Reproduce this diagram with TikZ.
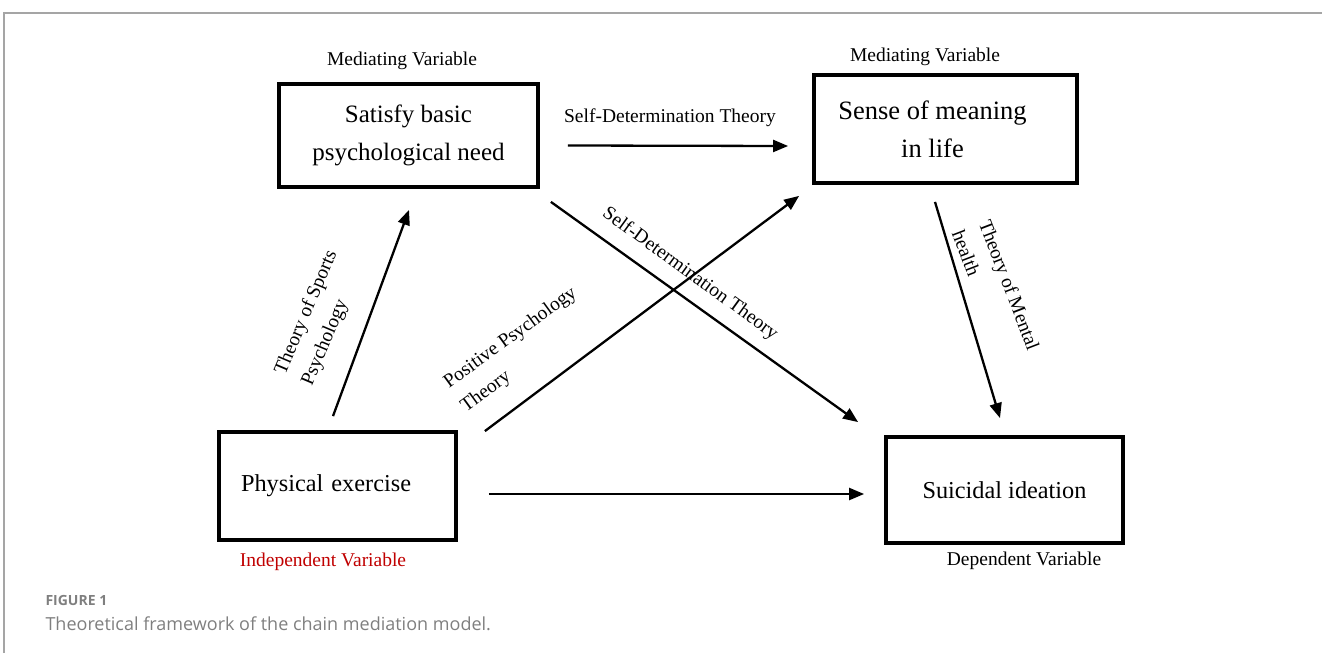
\documentclass[tikz,border=0pt]{standalone}
\usepackage{fontspec}
\setmainfont{Liberation Serif}
\newfontfamily\capfont{Open Sans}
\usetikzlibrary{arrows.meta}
\definecolor{capgray}{HTML}{7F7F7F}
\definecolor{indred}{HTML}{C00000}

\begin{document}
\begin{tikzpicture}[x=1pt, y=-1pt,
			var/.style  = {draw, line width=3.8pt, rectangle, align=center, inner sep=0pt, font=\fontsize{25}{38}\selectfont},
			note/.style = {font=\fontsize{19.5}{29}\selectfont},
			path/.style = {line width=2.3pt, -{Triangle[length=15pt,width=12pt]}},
			theory/.style = {note, align=left}]
			
			\useasboundingbox (0,0) rectangle (1322,653);
			\draw[capgray!70, line width=1.2pt] (4,653) -- (4,13) -- (1322,13);
			
			% the four variables
			\node[var, minimum width=259pt, minimum height=103pt] (need) at (408.5,135.5) {Satisfy basic\\psychological need};
			\node[var, minimum width=263pt, minimum height=108pt, font=\fontsize{26.5}{38}\selectfont] (mean) at (945.5,129) {Sense of meaning\hspace*{26pt}\\in life\hspace*{26pt}};
			\node[var, minimum width=237pt, minimum height=108pt, text width=193pt, align=left, font=\fontsize{24.3}{30}\selectfont] (exer) at (337.5,486) {Physical exercise};
			\node[var, minimum width=237pt, minimum height=106pt, font=\fontsize{24.3}{30}\selectfont] (suic) at (1004.5,490) {Suicidal ideation};
			
			% role of each variable
			\node[note] (need lab) at (402,61) {Mediating Variable};
			\node[note] (mean lab) at (925,57) {Mediating Variable};
			\node[note, text=indred] (exer lab) at (323,562) {Independent Variable};
			\node[note] (suic lab) at (1024,561) {Dependent Variable};
			
			% paths of the model
			\draw[path] ([shift={(28,10)}]need.east) -- ([shift={(-24,17)}]mean.west);
			\draw[path] ([shift={(-4.5,-14)}]exer.north) -- ([shift={(0.5,21)}]need.south);
			\draw[path] ([shift={(27,1)}]exer.north east) -- ([shift={(-13,11)}]mean.south west);
			\draw[path] ([shift={(11,13)}]need.south east) -- ([shift={(-26,-13)}]suic.north west);
			\draw[path] ([shift={(-10.5,17)}]mean.south) -- ([shift={(-4.5,-17)}]suic.north);
			\draw[path] ([shift={(31,8)}]exer.east) -- ([shift={(-20,4)}]suic.west);
			
			% theories along the paths
			\node[note] (sdt top) at (670,118) {Self-Determination Theory};
			\node[theory, rotate=67] (sport) at (320,318) {Theory of Sports\\Psychology};
			\node[theory, rotate=36] (posi) at (519,350) {Positive Psychology\\Theory};
			\node[note, rotate=-36] (sdt cross) at (690,274) {Self-Determination Theory};
			\node[theory, rotate=-69] (ment) at (996,290) {Theory of Mental\\health};
			
			% caption
			\node[anchor=base west, text=capgray, font=\capfont\bfseries\fontsize{14}{15}\selectfont] (fig) at (42,605) {FIGURE 1};
			\node[anchor=base west, text=capgray, font=\capfont\fontsize{18}{20}\selectfont] (cap) at (42,630) {Theoretical framework of the chain mediation model.};
		\end{tikzpicture}
\end{document}
